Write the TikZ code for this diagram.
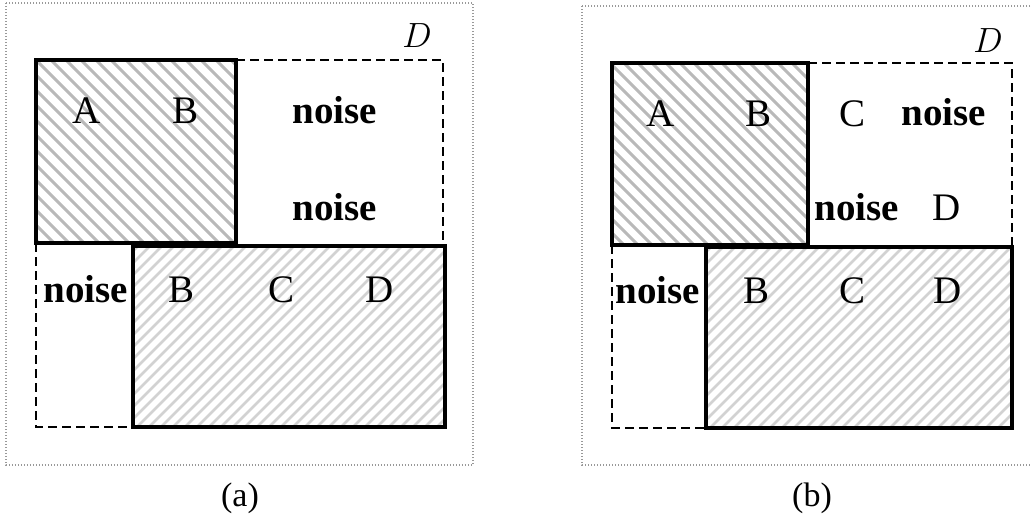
\RequirePackage{fix-cm}
\documentclass[tikz,border=0pt]{standalone}
\usepackage{fontspec}
\setmainfont{Liberation Serif}
\begin{document}
\begin{tikzpicture}[x=1pt,y=-1pt,
  frame/.style={draw=gray!80, line width=1.3pt, dash pattern=on 1.3pt off 1.7pt},
  solidbox/.style={draw=black, line width=3.6pt, line join=miter},
  dashbox/.style={draw=black, line width=1.8pt, dash pattern=on 9pt off 5pt},
  hatchA/.style={draw=gray!55, line width=3pt},
  hatchB/.style={draw=gray!35, line width=2.6pt},
  lbl/.style={font=\fontsize{39}{40}\selectfont, anchor=base, inner sep=0pt},
  noiselbl/.style={font=\fontsize{39}{40}\selectfont\bfseries, anchor=base, inner sep=0pt},
  setname/.style={font=\fontsize{35}{36}\selectfont, anchor=base, inner sep=0pt},
  caption/.style={font=\fontsize{34}{36}\selectfont, anchor=base, inner sep=0pt}]
\useasboundingbox (0,0) rectangle (1031,522);

% ---------- panel (a) ----------
\begin{scope}
  \clip (36,60) rectangle (236,243);
  \foreach \t in {-240,-225,...,240}
    \draw[hatchA] (36+\t,60) -- ++(200,200);
\end{scope}
\begin{scope}
  \clip (133,246) rectangle (445,427);
  \foreach \t in {-200,-188,...,320}
    \draw[hatchB] (133+\t,427) -- ++(200,-200);
\end{scope}
\draw[frame] (6,3) rectangle (473,465);
\draw[dashbox] (236,60) -- (443,60) -- (443,246);
\draw[dashbox] (36,243) -- (36,427) -- (133,427);
\draw[solidbox] (36,60) rectangle (236,243);
\draw[solidbox] (133,246) rectangle (445,427);

\node[setname] (Da) at (417,47) {$D$};
\node[lbl] (aA) at (87,123) {A};
\node[lbl] (aB) at (186,123) {B};
\node[noiselbl] (an1) at (335,123) {noise};
\node[noiselbl] (an2) at (335,220) {noise};
\node[noiselbl] (an3) at (86,302) {noise};
\node[lbl] (aB2) at (182,302) {B};
\node[lbl] (aC) at (282,302) {C};
\node[lbl] (aD) at (380,302) {D};
\node[caption] (capa) at (240,506) {(a)};

% ---------- panel (b) ----------
\begin{scope}
  \clip (612,63) rectangle (808,245);
  \foreach \t in {-240,-226,...,240}
    \draw[hatchA] (612+\t,63) -- ++(200,200);
\end{scope}
\begin{scope}
  \clip (706,247) rectangle (1012,428);
  \foreach \t in {-200,-188,...,320}
    \draw[hatchB] (706+\t,428) -- ++(200,-200);
\end{scope}
\draw[frame] (582,6) rectangle (1034,465);
\draw[dashbox] (808,63) -- (1012,63) -- (1012,247);
\draw[dashbox] (612,245) -- (612,428) -- (706,428);
\draw[solidbox] (612,63) rectangle (808,245);
\draw[solidbox] (706,247) rectangle (1012,428);

\node[setname] (Db) at (988,52) {$D$};
\node[lbl] (bA) at (661,126) {A};
\node[lbl] (bB) at (758,126) {B};
\node[lbl] (bC) at (852,126) {C};
\node[noiselbl] (bn1) at (944,125) {noise};
\node[noiselbl] (bn2) at (857,220) {noise};
\node[lbl] (bD) at (947,220) {D};
\node[noiselbl] (bn3) at (658,303) {noise};
\node[lbl] (bB2) at (756,303) {B};
\node[lbl] (bC2) at (852,303) {C};
\node[lbl] (bD2) at (948,303) {D};
\node[caption] (capb) at (812,506) {(b)};
\end{tikzpicture}
\end{document}
